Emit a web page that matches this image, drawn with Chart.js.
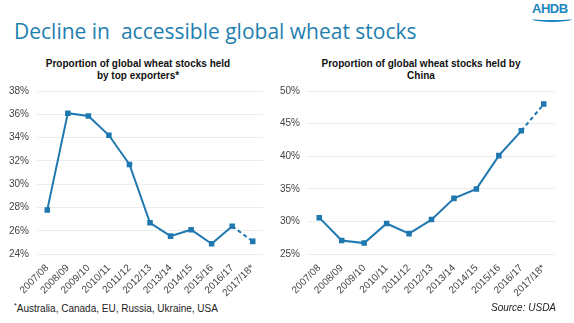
<!DOCTYPE html>
<html>
<head>
<meta charset="utf-8">
<script src="https://cdn.jsdelivr.net/npm/chart.js@4.4.0/dist/chart.umd.min.js"></script>
<style>
  body { margin: 0; background: #fff; width: 574px; height: 323px; position: relative; overflow: hidden; font-family: "Liberation Sans", Arial, sans-serif; }
  #title { position: absolute; left: 14px; top: 17px; font-family: "Open Sans", sans-serif; font-size: 21px; color: #1f80b0; white-space: pre; }
  #logo { position: absolute; left: 532px; top: 1px; font-family: "Liberation Sans", Arial, sans-serif; font-weight: bold; font-size: 13px; color: #1a86c0; letter-spacing: -0.5px; }
  #logo .wave { position: absolute; left: 0; top: 15px; width: 40px; height: 4px; border-bottom: 2px solid #1a86c0; border-radius: 0 0 50% 50%; }
  .sub { position: absolute; top: 58px; font-size: 10px; font-weight: bold; color: #111; text-align: center; line-height: 12px; white-space: nowrap; }
  #subLeft { left: 38px; width: 200px; }
  #subRight { left: 317px; width: 208px; }
  .box { position: absolute; }
  #left { left: 0; top: 77px; width: 282px; height: 222px; }
  #right { left: 270px; top: 77px; width: 304px; height: 222px; }
  #foot { position: absolute; left: 14px; top: 302px; font-size: 10px; color: #222; }
  #foot sup { font-size: 7px; }
  #source { position: absolute; left: 491px; top: 302px; font-size: 10px; font-style: italic; color: #222; }
</style>
</head>
<body>
<div id="title">Decline in  accessible global wheat stocks</div>
<div id="logo">AHDB<div class="wave"></div></div>
<div class="sub" id="subLeft">Proportion of global wheat stocks held<br>by top exporters*</div>
<div class="sub" id="subRight">Proportion of global wheat stocks held by<br>China</div>
<div class="box" id="left"><canvas id="chartLeft"></canvas></div>
<div class="box" id="right"><canvas id="chartRight"></canvas></div>
<div id="foot"><sup>*</sup>Australia, Canada, EU, Russia, Ukraine, USA</div>
<div id="source">Source: USDA</div>
<script>
const seasons = ['2007/08', '2008/09', '2009/10', '2010/11', '2011/12', '2012/13',
                 '2013/14', '2014/15', '2015/16', '2016/17', '2017/18*'];

// share of global stocks (%)
const topExporters = [27.8, 36.1, 35.85, 34.2, 31.7, 26.7, 25.55, 26.1, 24.9, 26.4, 25.1];
const china = [30.6, 27.1, 26.7, 29.7, 28.15, 30.3, 33.55, 35.0, 40.1, 43.9, 48.0];

const leftTicks = { min: 24, max: 38, step: 2 };
const rightTicks = { min: 25, max: 50, step: 5 };

const lineColor = '#1f78b0';

function makeChart(canvasId, values, yRange, padLeft) {
    return new Chart(document.getElementById(canvasId), {
        type: 'line',
        data: {
            labels: seasons,
            datasets: [{
                data: values,
                borderColor: lineColor,
                backgroundColor: lineColor,
                borderWidth: 2,
                pointStyle: 'rect',
                pointRadius: 2.5,
                tension: 0,
                segment: {
                    // forecast year is dashed
                    borderDash: ctx => ctx.p1DataIndex === seasons.length - 1 ? [4, 3] : undefined
                }
            }]
        },
        options: {
            responsive: true,
            maintainAspectRatio: false,
            animation: false,
            layout: { padding: { left: padLeft, right: 19, top: 5, bottom: 0 } },
            plugins: {
                legend: { display: false },
                tooltip: { enabled: false }
            },
            scales: {
                x: {
                    offset: true,
                    grid: { display: false },
                    border: { display: false },
                    ticks: {
                        color: '#444',
                        font: { family: 'Liberation Sans', size: 10 },
                        maxRotation: 45,
                        minRotation: 45,
                        autoSkip: false,
                        padding: 0
                    }
                },
                y: {
                    min: yRange.min,
                    max: yRange.max,
                    grid: { color: '#ececec', drawTicks: false },
                    border: { display: false },
                    ticks: {
                        stepSize: yRange.step,
                        color: '#444',
                        padding: 8,
                        font: { family: 'Liberation Sans', size: 10 },
                        callback: v => v + '%'
                    }
                }
            }
        }
    });
}

makeChart('chartLeft', topExporters, leftTicks, 1);
makeChart('chartRight', china, rightTicks, 2);
</script>
</body>
</html>
